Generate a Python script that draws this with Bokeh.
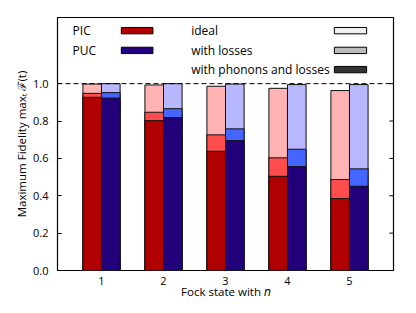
from bokeh.plotting import figure
from bokeh.models import ColumnDataSource, Range1d, FixedTicker, PrintfTickFormatter, Span
from bokeh.transform import dodge
from bokeh.core.properties import value
from bokeh.embed import file_html
from bokeh.resources import INLINE

# ---- data ----
n = [1, 2, 3, 4, 5]
pic_ideal = [0.998, 0.993, 0.986, 0.975, 0.963]
pic_losses = [0.948, 0.847, 0.726, 0.603, 0.487]
pic_phonons = [0.927, 0.802, 0.638, 0.504, 0.385]
puc_ideal = [1.0, 1.0, 0.998, 0.995, 0.995]
puc_losses = [0.952, 0.866, 0.758, 0.649, 0.544]
puc_phonons = [0.923, 0.818, 0.695, 0.556, 0.451]
y_ticks = [0.0, 0.2, 0.4, 0.6, 0.8, 1.0]

series_labels = ["PIC", "PUC"]
case_labels = ["ideal", "with losses", "with phonons and losses"]

FONT = "Open Sans"
red = ["#ffb3b3", "#ff4d4d", "#b00000"]
blue = ["#b8b8ff", "#4466ff", "#22007a"]
grays = ["#f0f0f0", "#bbbbbb", "#333333"]

src = ColumnDataSource(dict(n=n, pic_ideal=pic_ideal, pic_losses=pic_losses, pic_phonons=pic_phonons,
                            puc_ideal=puc_ideal, puc_losses=puc_losses, puc_phonons=puc_phonons))

p = figure(width=408, height=305, output_backend="svg", toolbar_location=None,
           x_range=Range1d(0.29, 5.71), y_range=Range1d(0, 1.354),
           min_border_left=57, min_border_right=15, min_border_top=17, min_border_bottom=35)
p.background_fill_color = "white"
p.border_fill_color = "white"
p.outline_line_color = "black"
p.outline_line_width = 1.2
p.grid.visible = False

W = 0.3
for cols, colors, off in (
        (["pic_ideal", "pic_losses", "pic_phonons"], red, -0.15),
        (["puc_ideal", "puc_losses", "puc_phonons"], blue, 0.15)):
    for c, col in zip(cols, colors):
        p.vbar(x=dodge("n", off, range=p.x_range), top=c, bottom=0, width=W, source=src,
               fill_color=col, line_color="#111111", line_width=1)

p.add_layout(Span(location=1.0, dimension="width", line_color="black", line_dash="5 3", line_width=1))

# inward ticks on the right frame edge
tick_len = 0.065
p.segment(x0=[p.x_range.end] * len(y_ticks), x1=[p.x_range.end - tick_len] * len(y_ticks),
          y0=y_ticks, y1=y_ticks, line_color="black", line_width=1)

# axes
xa = p.xaxis[0]
xa.ticker = FixedTicker(ticks=n)
xa.axis_label = "Fock state with 𝑛"
xa.major_tick_in = 0
xa.major_tick_out = 0
xa.minor_tick_in = 0
xa.minor_tick_out = 0
xa.axis_line_color = None
xa.major_label_standoff = 6
xa.axis_label_standoff = -4

ya = p.yaxis[0]
ya.ticker = FixedTicker(ticks=y_ticks)
ya.formatter = PrintfTickFormatter(format="%.1f")
ya.axis_label = "Maximum Fidelity maxₜ ℱ(t)"
ya.major_tick_in = 4
ya.major_tick_out = 0
ya.minor_tick_in = 0
ya.minor_tick_out = 0
ya.axis_line_color = None
ya.major_label_standoff = 9
ya.axis_label_standoff = 1

for ax in (xa, ya):
    ax.major_label_text_font = FONT
    ax.major_label_text_font_size = "11px"
    ax.major_label_text_color = "black"
    ax.axis_label_text_font = FONT
    ax.axis_label_text_font_size = "11.5px"
    ax.axis_label_text_font_style = "normal"
    ax.axis_label_text_color = "black"

# legend (manual, label left / swatch right), positions as fractions of the frame
def fx(f):
    return p.x_range.start + f * (p.x_range.end - p.x_range.start)

def fy(f):
    return p.y_range.start + f * (p.y_range.end - p.y_range.start)

row_y = [fy(0.948), fy(0.870), fy(0.794)]
sw_h = 0.034

p.text(x=[fx(0.045)] * 2, y=row_y[:2], text=series_labels, text_font=value(FONT),
       text_font_size="12px", text_baseline="middle", text_align="left", text_color="black")
p.rect(x=[fx(0.237)] * 2, y=row_y[:2], width=0.51, height=sw_h, fill_color=[red[2], blue[2]],
       line_color="black", line_width=1)
p.text(x=[fx(0.398)] * 3, y=row_y, text=case_labels,
       text_font=value(FONT), text_font_size="12px", text_baseline="middle", text_align="left",
       text_color="black")
p.rect(x=[fx(0.872)] * 3, y=row_y, width=0.52, height=sw_h, fill_color=grays,
       line_color="black", line_width=1)

open("out.html", "w").write(file_html(p, INLINE))
